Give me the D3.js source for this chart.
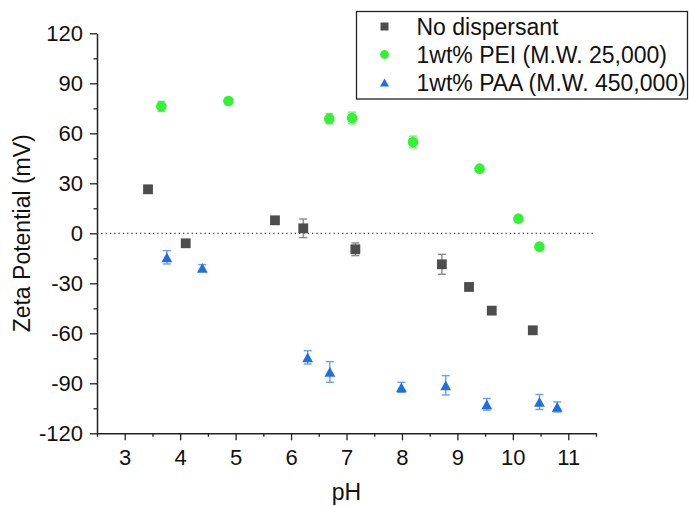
<!DOCTYPE html>
<html>
<head>
<meta charset="utf-8">
<script src="https://cdn.jsdelivr.net/npm/d3@7"></script>
<style>
  body { margin: 0; background: #fff; }
  svg { display: block; font-family: Arial, "Liberation Sans", sans-serif; }
</style>
</head>
<body>
<div id="chart"></div>
<script>
// No dispersant
const phNone = [3.42, 4.10, 5.71, 6.22, 7.16, 8.72, 9.21, 9.62, 10.36];
const zetaNone = [26.4, -6.0, 7.8, 3.0, -9.6, -18.6, -32.2, -46.4, -58.2];
const errNone = [2.0, 1.0, 1.0, 5.6, 3.8, 6.0, 1.0, 1.0, 1.0];

// 1wt% PEI
const phPei = [3.66, 4.87, 6.69, 7.10, 8.20, 9.40, 10.10, 10.48];
const zetaPei = [76.2, 79.4, 68.8, 69.2, 54.8, 38.8, 8.8, -8.0];
const errPei = [3.0, 1.5, 3.0, 3.5, 3.5, 1.0, 1.0, 1.0];

// 1wt% PAA
const phPaa = [3.76, 4.40, 6.30, 6.70, 7.99, 8.79, 9.53, 10.48, 10.80];
const zetaPaa = [-14.4, -20.8, -74.4, -83.2, -92.4, -91.2, -102.6, -101.2, -104.2];
const errPaa = [4.0, 2.0, 4.0, 6.2, 3.0, 5.8, 3.5, 4.5, 3.0];

const seriesNames = ["No dispersant", "1wt% PEI (M.W. 25,000)", "1wt% PAA (M.W. 450,000)"];
const xTicks = [3, 4, 5, 6, 7, 8, 9, 10, 11];
const yTicks = [-120, -90, -60, -30, 0, 30, 60, 90, 120];

const W = 689, H = 506;
const margin = { top: 33.3, right: 93, bottom: 72.7, left: 97 };
const width = W - margin.left - margin.right;
const height = H - margin.top - margin.bottom;

const svg = d3.select("#chart").append("svg")
  .attr("width", W)
  .attr("height", H);

const g = svg.append("g")
  .attr("transform", `translate(${margin.left},${margin.top})`);

const x = d3.scaleLinear().domain([2.5, 11.5]).range([0, width]);
const y = d3.scaleLinear().domain([-120, 120]).range([height, 0]);

// minor ticks first
const xMinor = d3.range(2.5, 11.51, 0.5).filter(v => !xTicks.includes(v));
const yMinor = d3.range(-105, 120, 30);

g.append("g")
  .attr("transform", `translate(0,${height})`)
  .call(d3.axisBottom(x).tickValues(xMinor).tickSize(3.5).tickFormat(""))
  .call(a => a.select(".domain").remove())
  .selectAll("line").attr("stroke", "#222").attr("stroke-width", 1.3);

g.append("g")
  .call(d3.axisLeft(y).tickValues(yMinor).tickSize(3.5).tickFormat(""))
  .call(a => a.select(".domain").remove())
  .selectAll("line").attr("stroke", "#222").attr("stroke-width", 1.3);

const xAxis = g.append("g")
  .attr("transform", `translate(0,${height})`)
  .call(d3.axisBottom(x).tickValues(xTicks).tickSize(7).tickSizeOuter(0).tickPadding(6).tickFormat(d => String(d)));

const yAxis = g.append("g")
  .call(d3.axisLeft(y).tickValues(yTicks).tickSize(7).tickSizeOuter(0).tickPadding(7).tickFormat(d => String(d)));

[xAxis, yAxis].forEach(a => {
  a.attr("font-size", null).attr("font-family", null);
  a.select(".domain").attr("stroke", "#222").attr("stroke-width", 1.5);
  a.selectAll(".tick line").attr("stroke", "#222").attr("stroke-width", 1.3);
  a.selectAll(".tick text")
    .attr("fill", "#111")
    .style("font-size", "22px")
    .style("font-family", "Arial, 'Liberation Sans', sans-serif");
});
xAxis.selectAll(".tick text").attr("dy", "0.85em");

// axis titles
svg.append("text")
  .attr("x", margin.left + x(7.0))
  .attr("y", 500)
  .attr("text-anchor", "middle")
  .style("font-size", "23px")
  .attr("fill", "#111")
  .text("pH");

svg.append("text")
  .attr("transform", `translate(30,${margin.top + height / 2}) rotate(-90)`)
  .attr("text-anchor", "middle")
  .style("font-size", "23px")
  .attr("fill", "#111")
  .text("Zeta Potential (mV)");

// zero reference line
g.append("line")
  .attr("x1", x(2.5)).attr("x2", x(11.45))
  .attr("y1", y(0)).attr("y2", y(0))
  .attr("stroke", "#444")
  .attr("stroke-width", 1.3)
  .attr("stroke-dasharray", "1.3,3");

const triPath = s => `M0,${-s / 2}L${s / 2 + 0.5},${s / 2}L${-s / 2 - 0.5},${s / 2}Z`;

const series = [
  { name: seriesNames[0], ph: phNone, zeta: zetaNone, err: errNone, color: "#4d4d4d", errColor: "#8a8a8a", shape: "square" },
  { name: seriesNames[1], ph: phPei, zeta: zetaPei, err: errPei, color: "#33f233", errColor: "#6cf56c", shape: "circle" },
  { name: seriesNames[2], ph: phPaa, zeta: zetaPaa, err: errPaa, color: "#1f6fe0", errColor: "#6a9fea", shape: "triangle" }
];

function drawMarker(sel, shape, color, s) {
  if (shape === "square") {
    sel.append("rect").attr("x", -s / 2).attr("y", -s / 2).attr("width", s).attr("height", s).attr("fill", color);
  } else if (shape === "circle") {
    sel.append("circle").attr("r", s / 2 + 0.4).attr("fill", color);
  } else {
    sel.append("path").attr("d", triPath(s)).attr("fill", color);
  }
}

series.forEach(s => {
  const pts = s.ph.map((p, i) => ({ p, v: s.zeta[i], e: s.err[i] }));
  const grp = g.append("g");

  const eb = grp.selectAll(".err").data(pts).enter().append("g").attr("class", "err")
    .attr("stroke", s.errColor).attr("stroke-width", 1.4);
  eb.append("line")
    .attr("x1", d => x(d.p)).attr("x2", d => x(d.p))
    .attr("y1", d => y(d.v + d.e)).attr("y2", d => y(d.v - d.e));
  eb.append("line")
    .attr("x1", d => x(d.p) - 4).attr("x2", d => x(d.p) + 4)
    .attr("y1", d => y(d.v + d.e)).attr("y2", d => y(d.v + d.e));
  eb.append("line")
    .attr("x1", d => x(d.p) - 4).attr("x2", d => x(d.p) + 4)
    .attr("y1", d => y(d.v - d.e)).attr("y2", d => y(d.v - d.e));

  grp.selectAll(".pt").data(pts).enter().append("g").attr("class", "pt")
    .attr("transform", d => `translate(${x(d.p)},${y(d.v)})`)
    .each(function () { drawMarker(d3.select(this), s.shape, s.color, 9.8); });
});

// legend
const legend = svg.append("g").attr("transform", "translate(356.5,11.5)");
legend.append("rect")
  .attr("width", 331).attr("height", 87.5)
  .attr("fill", "#fff").attr("stroke", "#222").attr("stroke-width", 1.3);

series.forEach((s, i) => {
  const row = legend.append("g").attr("transform", `translate(0,${15 + i * 28})`);
  const m = row.append("g").attr("transform", "translate(28,0)");
  drawMarker(m, s.shape, s.color, 8);
  row.append("text")
    .attr("x", 60).attr("y", 0).attr("dy", "0.36em")
    .style("font-size", "23px")
    .attr("fill", "#111")
    .text(s.name);
});
</script>
</body>
</html>
